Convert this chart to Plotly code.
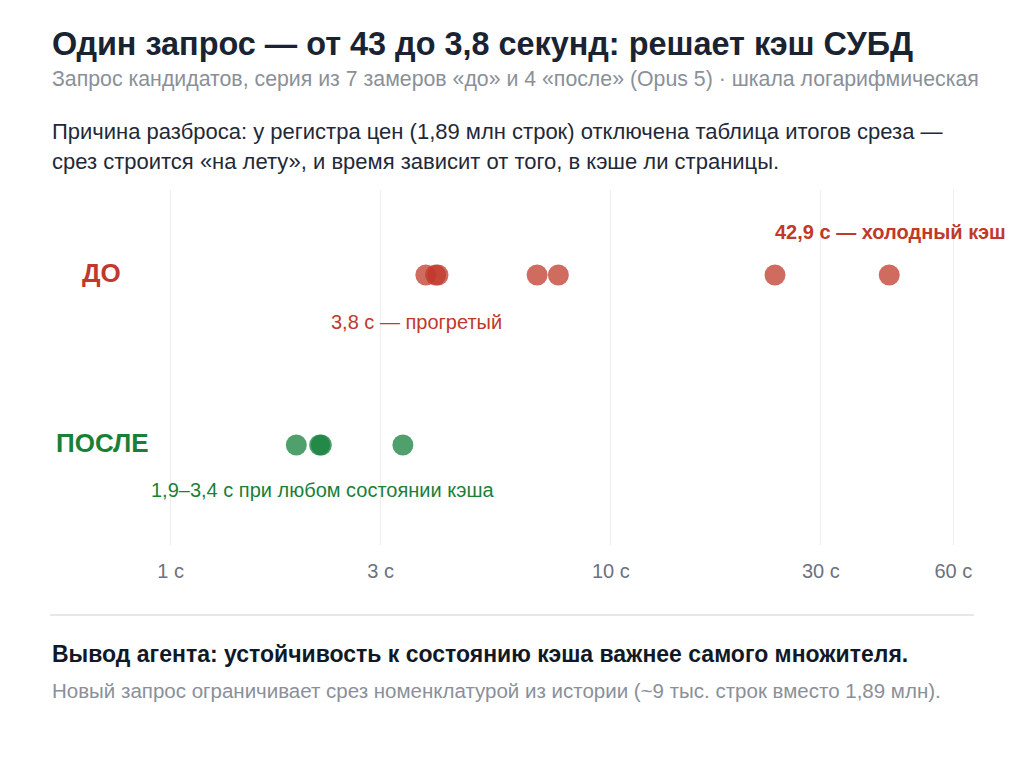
import plotly.graph_objects as go

# замеры, секунды
before_sec = [3.8, 4.0, 4.05, 6.8, 7.6, 23.6, 42.9]
after_sec = [1.93, 2.18, 2.2, 3.37]
rows = ["ДО", "ПОСЛЕ"]
tick_vals = [1, 3, 10, 30, 60]
tick_text = ["1 с", "3 с", "10 с", "30 с", "60 с"]

RED = "#c0392b"
GREEN = "#1a7f37"
FONT = "Liberation Sans, Arial, sans-serif"

W, H = 1024, 768
OFF = 8  # body margin of the page
TOP, BOTTOM = 190 - OFF, 545 - OFF  # plot area in figure pixels
LEFT, RIGHT = 50 - OFF, 974 - OFF


def py(y):
    # page pixel row -> paper coordinate
    return (BOTTOM - (y - OFF)) / (BOTTOM - TOP)


def pxx(x):
    return ((x - OFF) - LEFT) / (RIGHT - LEFT)


fig = go.Figure()
fig.add_trace(go.Scatter(
    x=before_sec, y=[1] * len(before_sec), mode="markers",
    marker=dict(size=21, color=RED, opacity=0.75, line=dict(width=0)),
    hoverinfo="x", showlegend=False,
))
fig.add_trace(go.Scatter(
    x=after_sec, y=[0] * len(after_sec), mode="markers",
    marker=dict(size=21, color="#15803d", opacity=0.75, line=dict(width=0)),
    hoverinfo="x", showlegend=False,
))

ann = []


def text(x, y, s, size, color, bold=False, anchor="left"):
    ann.append(dict(
        x=pxx(x), y=py(y), xref="paper", yref="paper", text=f"<b>{s}</b>" if bold else s,
        showarrow=False, xanchor=anchor, yanchor="middle",
        font=dict(family=FONT, size=size, color=color),
    ))


text(50, 44, "Один запрос — от 43 до 3,8 секунд: решает кэш СУБД", 32.4, "#1a2332", bold=True)
text(50, 79, "Запрос кандидатов, серия из 7 замеров «до» и 4 «после» (Opus 5) · шкала логарифмическая",
     21.3, "#8a9099")
text(50, 131, "Причина разброса: у регистра цен (1,89 млн строк) отключена таблица итогов среза —", 22, "#1f2937")
text(50, 161, "срез строится «на лету», и время зависит от того, в кэше ли страницы.", 22, "#1f2937")

text(101, 273, rows[0], 26, RED, bold=True, anchor="center")
text(102, 443, rows[1], 26, GREEN, bold=True, anchor="center")

text(890, 232, "42,9 с — холодный кэш", 20, RED, bold=True, anchor="center")
text(416, 322, "3,8 с — прогретый", 20, RED, anchor="center")
text(322, 490, "1,9–3,4 с при любом состоянии кэша", 20, GREEN, anchor="center")

text(50, 654, "Вывод агента: устойчивость к состоянию кэша важнее самого множителя.", 23, "#111827", bold=True)
text(50, 690, "Новый запрос ограничивает срез номенклатурой из истории (~9 тыс. строк вместо 1,89 млн).",
     20.5, "#8a9099")

fig.update_layout(
    width=W, height=H,
    margin=dict(l=LEFT, r=W - RIGHT, t=TOP, b=H - BOTTOM),
    paper_bgcolor="white", plot_bgcolor="white",
    font=dict(family=FONT),
    annotations=ann,
    shapes=[dict(type="line", xref="paper", yref="paper", x0=0, x1=1,
                 y0=py(615), y1=py(615), line=dict(color="#e5e7eb", width=2))],
    xaxis=dict(
        type="log", range=[-0.274, 1.825],
        tickvals=tick_vals, ticktext=tick_text,
        tickfont=dict(size=20, color="#6b7280"),
        showgrid=True, gridcolor="#eeeeee", gridwidth=1,
        zeroline=False, showline=False,
        ticks="outside", ticklen=8, tickcolor="rgba(0,0,0,0)",
    ),
    yaxis=dict(range=[-0.588, 1.5], showticklabels=False, showgrid=False, zeroline=False),
)

fig.write_html("out.html")
